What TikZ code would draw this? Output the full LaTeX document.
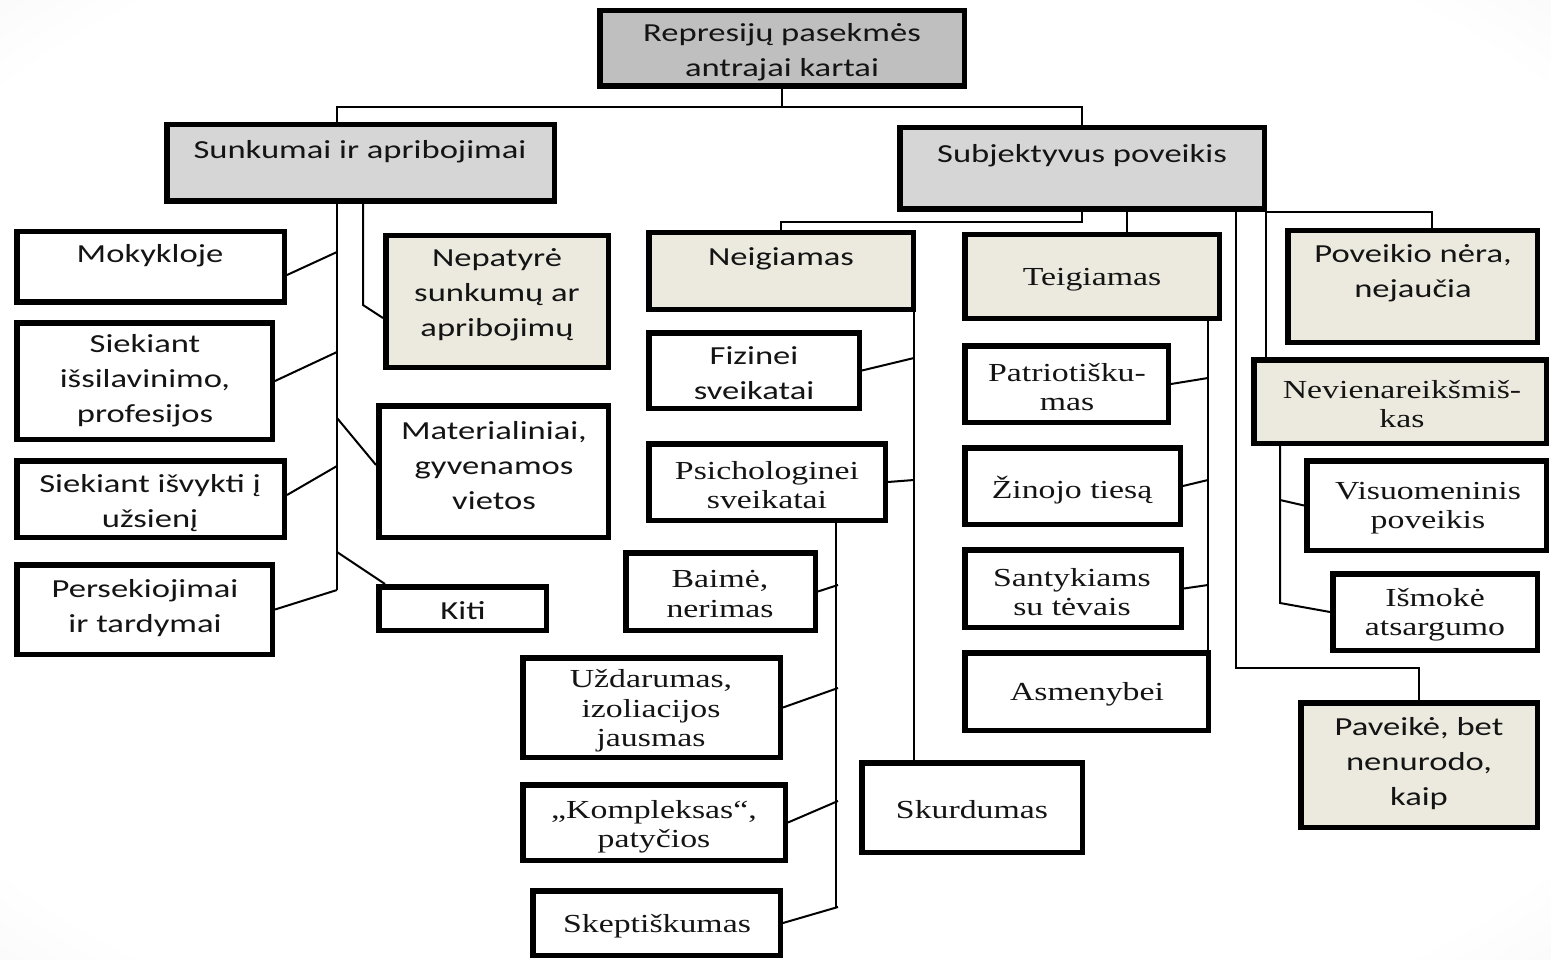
\documentclass[tikz,border=0pt]{standalone}
\usepackage{fontspec}
\setmainfont{Liberation Serif}[FakeStretch=1.3]
\newfontfamily\calfont{Carlito}[FakeStretch=1.33]
\definecolor{rootgray}{HTML}{BFBFBF}
\definecolor{lvgray}{HTML}{D6D6D6}
\definecolor{beige}{HTML}{ECEADF}
\definecolor{ink}{HTML}{141414}
\pgfdeclareradialshading{bgshade}{\pgfpoint{0bp}{0bp}}{color(0bp)=(white); color(32bp)=(white); color(50bp)=(black!9); color(72bp)=(black!13)}
\tikzset{
  box/.style={draw=black, line width=5.5pt, inner sep=0pt, rectangle},
  conn/.style={draw=black, line width=2pt},
  sans/.style={font=\calfont\fontsize{26}{35}\selectfont, align=center, inner sep=0pt, text=ink, yshift=-2pt},
  serif/.style={font=\fontsize{26}{29.5}\selectfont, align=center, inner sep=0pt, text=ink, yshift=-2pt},
}
\newcommand\bx[6]{\node[box,#6,minimum width={#4-#2-5.5},minimum height={#5-#3-5.5}] (#1) at ({(#2+#4)/2},{(#3+#5)/2}) {};}
\begin{document}
\begin{tikzpicture}[x=1pt,y=-1pt]
\useasboundingbox (0,0) rectangle (1551,960);
\shade[shading=bgshade] (0,0) rectangle (1551,960);
% boxes
\bx{root}{597}{8}{967}{89}{fill=rootgray}
\bx{sunk}{164}{122}{557}{204}{fill=lvgray}
\bx{subj}{897}{125}{1267}{212}{fill=lvgray}
\bx{mok}{14}{229}{287}{305}{fill=white}
\bx{sie}{14}{320}{275}{442}{fill=white}
\bx{isv}{14}{458}{287}{540}{fill=white}
\bx{pers}{14}{562}{275}{657}{fill=white}
\bx{nep}{383}{233}{611}{370}{fill=beige}
\bx{mat}{376}{403}{611}{540}{fill=white}
\bx{kiti}{376}{584}{549}{633}{fill=white}
\bx{neig}{646}{230}{916}{312}{fill=beige}
\bx{teig}{962}{232}{1222}{321}{fill=beige}
\bx{pov}{1285}{228}{1540}{345}{fill=beige}
\bx{nev}{1251}{357}{1549}{446}{fill=beige}
\bx{vis}{1304}{458}{1549}{553}{fill=white}
\bx{ism}{1330}{571}{1540}{653}{fill=white}
\bx{pav}{1298}{700}{1540}{830}{fill=beige}
\bx{fiz}{646}{330}{862}{411}{fill=white}
\bx{psy}{646}{441}{888}{523}{fill=white}
\bx{bai}{623}{550}{818}{633}{fill=white}
\bx{uzd}{520}{655}{783}{760}{fill=white}
\bx{kom}{520}{782}{788}{863}{fill=white}
\bx{ske}{530}{888}{783}{958}{fill=white}
\bx{sku}{859}{760}{1085}{855}{fill=white}
\bx{pat}{962}{343}{1171}{425}{fill=white}
\bx{zin}{962}{445}{1183}{527}{fill=white}
\bx{san}{962}{547}{1184}{630}{fill=white}
\bx{asm}{962}{650}{1211}{733}{fill=white}
% texts
\node[sans] (root-t) at (782,50) {Represijų pasekmės\\antrajai kartai};
\node[sans] (sunk-t) at (360,150) {Sunkumai ir apribojimai};
\node[sans] (subj-t) at (1082,154) {Subjektyvus poveikis};
\node[sans] (mok-t) at (150,254) {Mokykloje};
\node[sans] (sie-t) at (145,379) {Siekiant\\išsilavinimo,\\profesijos};
\node[sans] (isv-t) at (150,501) {Siekiant išvykti į\\užsienį};
\node[sans] (pers-t) at (145,606) {Persekiojimai\\ir tardymai};
\node[sans] (nep-t) at (497,293) {Nepatyrė\\sunkumų ar\\apribojimų};
\node[sans] (mat-t) at (494,464) {Materialiniai,\\gyvenamos\\vietos};
\node[sans] (kiti-t) at (463,609) {Kiti};
\node[sans] (neig-t) at (781,257) {Neigiamas};
\node[serif] (teig-t) at (1092,278) {Teigiamas};
\node[sans] (pov-t) at (1413,271) {Poveikio nėra,\\nejaučia};
\node[sans] (fiz-t) at (754,371) {Fizinei\\sveikatai};
\node[serif] (psy-t) at (767,483) {Psichologinei\\sveikatai};
\node[serif] (bai-t) at (720,592) {Baimė,\\nerimas};
\node[serif] (uzd-t) at (651,709) {Uždarumas,\\izoliacijos\\jausmas};
\node[serif] (kom-t) at (654,825) {„Kompleksas“,\\patyčios};
\node[serif] (ske-t) at (657,924) {Skeptiškumas};
\node[serif] (sku-t) at (972,808) {Skurdumas};
\node[serif] (pat-t) at (1067,385) {Patriotišku-\\mas};
\node[serif] (zin-t) at (1072,488) {Žinojo tiesą};
\node[serif] (san-t) at (1072,590) {Santykiams\\su tėvais};
\node[serif] (asm-t) at (1087,692) {Asmenybei};
\node[serif] (nev-t) at (1402,402) {Nevienareikšmiš-\\kas};
\node[serif] (vis-t) at (1428,506) {Visuomeninis\\poveikis};
\node[serif] (ism-t) at (1435,613) {Išmokė\\atsargumo};
\node[sans] (pav-t) at (1419,762) {Paveikė, bet\\nenurodo,\\kaip};
% connectors: top
\draw[conn] (root.south) -- ++(0,18) coordinate (busA);
\draw[conn] (busA) -| ([xshift=-23.5pt]sunk.north);
\draw[conn] (busA) -| (subj.north);
% Sunkumai
\coordinate (s1) at (337,252);
\coordinate (s2) at (337,352);
\coordinate (s3) at (337,466);
\coordinate (s4) at (337,590);
\coordinate (s5) at (337,418);
\coordinate (s6) at (337,552);
\draw[conn] ([xshift=-23.5pt]sunk.south) -- (s4);
\draw[conn] (s1) -- ([yshift=-8pt]mok.east);
\draw[conn] (s2) -- (sie.east);
\draw[conn] (s3) -- ([yshift=4pt]isv.east);
\draw[conn] (s4) -- (pers.east);
\draw[conn] (s5) -- ([yshift=6.5pt]mat.west);
\draw[conn] (s6) -- ([xshift=9pt]kiti.north west);
\coordinate (nA) at (363,305);
\draw[conn] ([xshift=2.5pt]sunk.south) -- (nA) -- ([yshift=-16.5pt]nep.west);
% Subjektyvus
\draw[conn] (subj.south) -- ++(0,10) -| (neig.north);
\coordinate (tB) at (1127,212);
\draw[conn] (tB) -- (tB |- teig.north);
\coordinate (pvB) at (1236,668);
\draw[conn] (pvB |- subj.south) -- (pvB) -| (pav.north);
\coordinate (nvB) at (1266,212);
\draw[conn] (nvB) -- (nvB |- nev.north);
\draw[conn] (nvB) -| ([xshift=19.5pt]pov.north);
% Neigiamas
\coordinate (ng1) at (914,312);
\draw[conn] (ng1) -- (ng1 |- sku.north);
\coordinate (ng2) at (914,358);
\coordinate (ng3) at (914,480);
\draw[conn] (fiz.east) -- (ng2);
\draw[conn] (psy.east) -- (ng3);
\coordinate (ps5) at (836,908);
\draw[conn] ([xshift=69pt]psy.south) -- (ps5);
\coordinate (ps1) at (838,585);
\coordinate (ps2) at (838,688);
\coordinate (ps3) at (838,801);
\coordinate (ps4) at (838,907);
\draw[conn] (bai.east) -- (ps1);
\draw[conn] (uzd.east) -- (ps2);
\draw[conn] (kom.east) -- (ps3);
\draw[conn] (ske.east) -- (ps4);
% Teigiamas
\coordinate (tg0) at (1208,321);
\draw[conn] (tg0) -- (tg0 |- asm.north);
\coordinate (tg1) at (1208,378);
\coordinate (tg2) at (1208,480);
\coordinate (tg3) at (1208,585);
\draw[conn] (pat.east) -- (tg1);
\draw[conn] (zin.east) -- (tg2);
\draw[conn] (san.east) -- (tg3);
% Nevienareiksmiskas
\coordinate (nv0) at (1280,446);
\coordinate (nv1) at (1280,603);
\coordinate (nv2) at (1280,500);
\draw[conn] (nv0) -- (nv1) -- (ism.west);
\draw[conn] (nv2) -- (vis.west);
\end{tikzpicture}
\end{document}
